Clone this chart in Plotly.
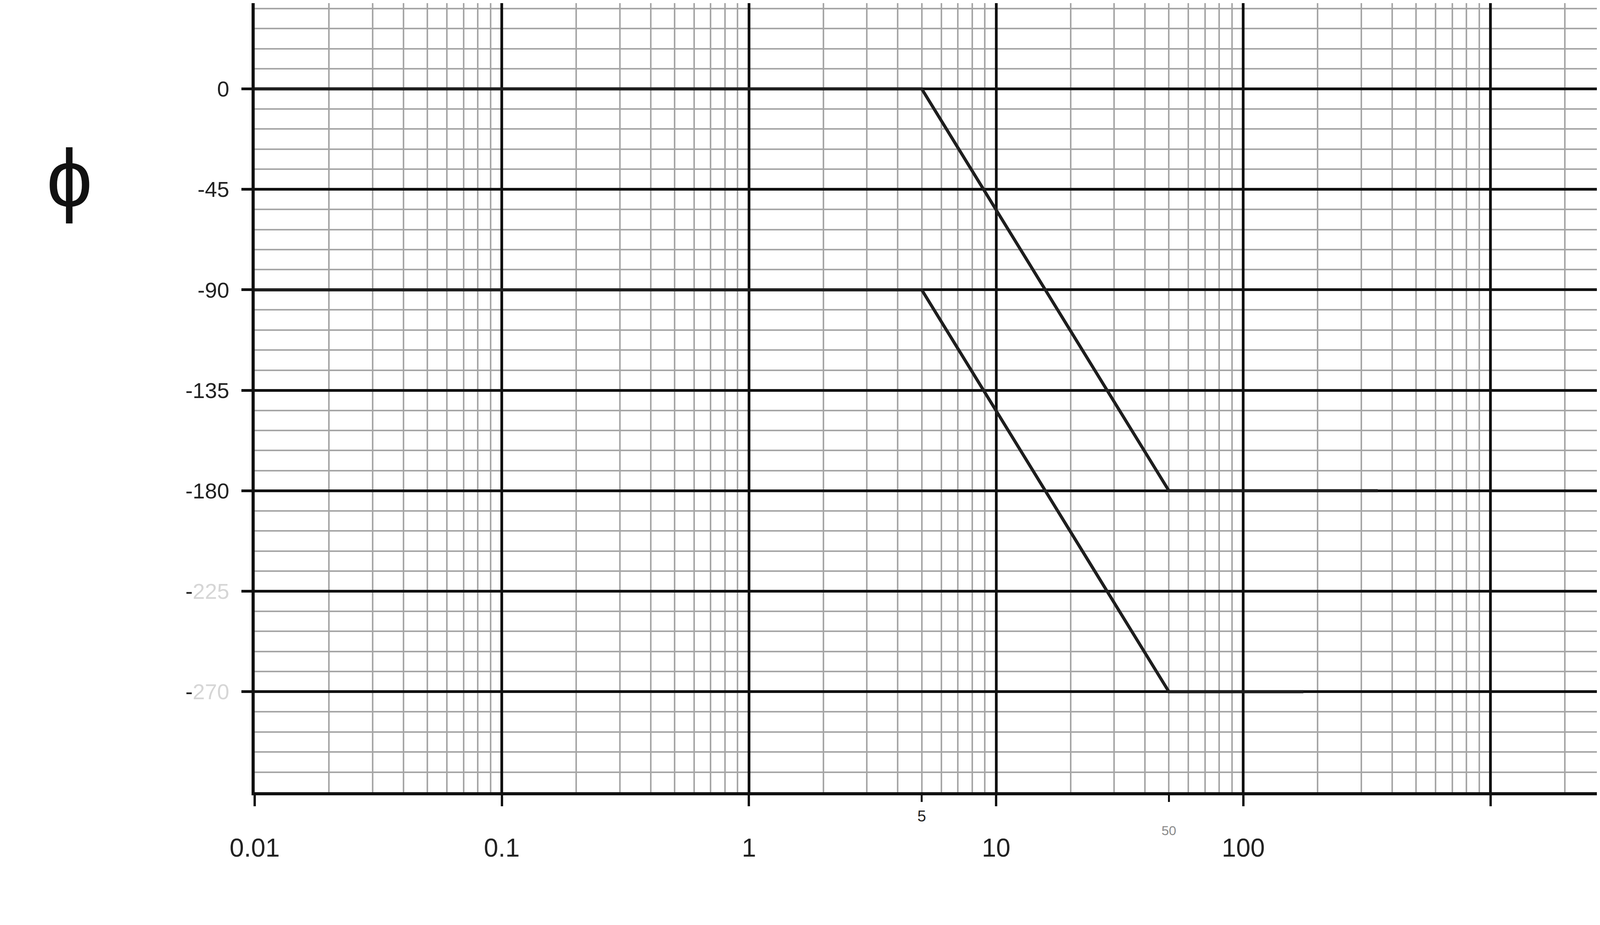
import plotly.graph_objects as go

# Bode phase sketch on semi-log paper
freq_a = [0.01, 5, 50, 350]
phase_a = [0, 0, -180, -180]

freq_b = [0.01, 5, 50, 175]
phase_b = [-90, -90, -270, -270]

x_ticks = [0.01, 0.1, 1, 10, 100, 1000]
x_labels = ["0.01", "0.1", "1", "10", "100", ""]
corner_5 = [5]
corner_50 = [50]

y_ticks = [0, -45, -90, -135, -180, -225, -270]
y_labels = ["0", "-45", "-90", "-135", "-180",
            "-<span style='color:#d6d6d6'>225</span>",
            "-<span style='color:#d6d6d6'>270</span>"]

# minor lines of the log paper: 2..9 in every decade
minor_x = [m * 10.0 ** k for k in range(-2, 4) for m in range(2, 10)]

x_range = [-2, 3.437]
ink = "#1e1e1e"
font = "Liberation Sans"


def mark_axis(vals, text, size, color, standoff):
    return dict(
        type="log", range=x_range, overlaying="x", anchor="y", side="bottom",
        tickmode="array", tickvals=vals, ticktext=text,
        tickfont=dict(size=size, color=color),
        ticks="outside", ticklen=24, tickwidth=5, tickcolor="#111",
        ticklabelstandoff=standoff,
        showgrid=False, showline=False, zeroline=False,
    )


fig = go.Figure()
fig.add_trace(go.Scatter(x=freq_a, y=phase_a, mode="lines",
                         line=dict(color=ink, width=8), showlegend=False))
fig.add_trace(go.Scatter(x=freq_b, y=phase_b, mode="lines",
                         line=dict(color=ink, width=8), showlegend=False))
# empty traces so the two extra x axes get drawn
fig.add_trace(go.Scatter(x=corner_5, y=[None], xaxis="x2", mode="lines",
                         showlegend=False, hoverinfo="skip"))
fig.add_trace(go.Scatter(x=corner_50, y=[None], xaxis="x3", mode="lines",
                         showlegend=False, hoverinfo="skip"))

fig.update_layout(
    width=4084, height=2295,
    margin=dict(l=644, r=0, t=0, b=275),
    paper_bgcolor="white", plot_bgcolor="white",
    font=dict(family=font, color=ink),
    xaxis=dict(
        type="log", range=x_range,
        tickmode="array", tickvals=x_ticks, ticktext=x_labels,
        tickfont=dict(size=66, color="#222"),
        ticks="outside", ticklen=28, tickwidth=6, tickcolor="#111",
        ticklabelstandoff=50,
        showgrid=True, gridcolor="#111", gridwidth=7,
        showline=True, linecolor="#111", linewidth=8,
        zeroline=False,
        minor=dict(tickmode="array", tickvals=minor_x, showgrid=True,
                   gridcolor="#a6a6a6", gridwidth=4, ticks=""),
    ),
    xaxis2=mark_axis(corner_5, ["5"], 40, "#222", 2),
    xaxis3=mark_axis(corner_50, ["50"], 34, "#8a8a8a", 44),
    yaxis=dict(
        range=[-315, 38.4],
        tickmode="array", tickvals=y_ticks, ticktext=y_labels,
        tickfont=dict(size=56, color="#222"),
        ticks="outside", ticklen=26, tickwidth=7, tickcolor="#111",
        ticklabelstandoff=20,
        showgrid=True, gridcolor="#111", gridwidth=7,
        showline=True, linecolor="#111", linewidth=8,
        zeroline=False,
        minor=dict(tick0=0, dtick=9, showgrid=True,
                   gridcolor="#a6a6a6", gridwidth=4, ticks=""),
    ),
    annotations=[dict(text="ϕ", xref="paper", yref="paper",
                      x=-0.1378, y=0.778, xanchor="center", yanchor="middle",
                      showarrow=False, font=dict(size=210, color="#111"))],
)

fig.write_html("out.html")
